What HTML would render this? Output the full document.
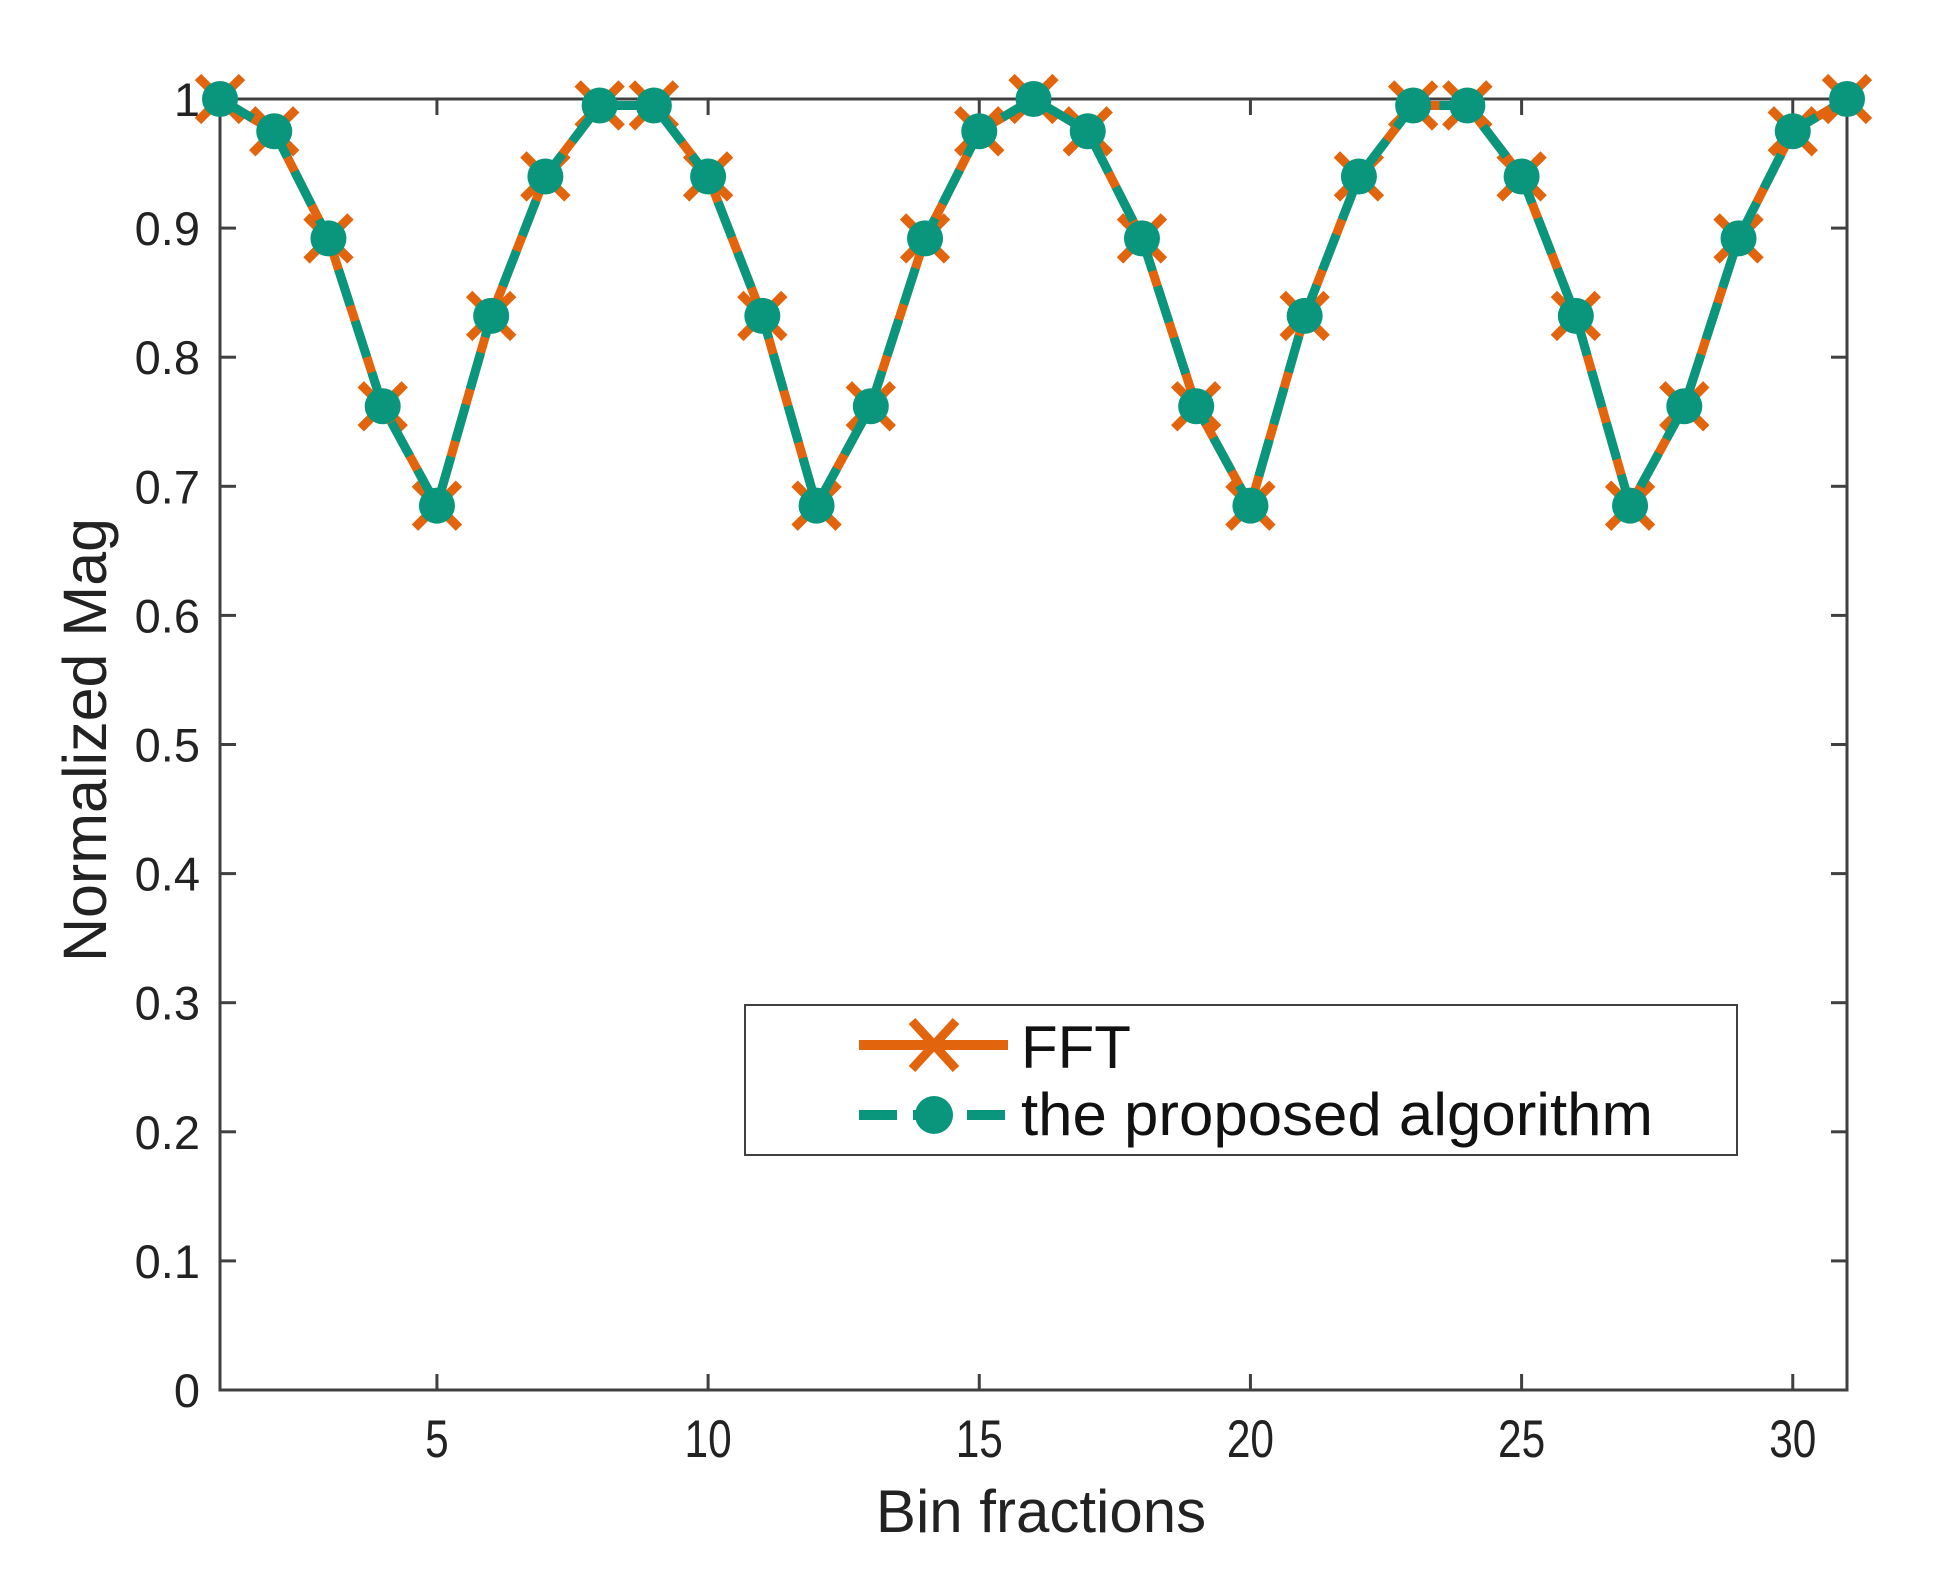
<!DOCTYPE html>
<html><head><meta charset="utf-8"><style>html,body{margin:0;padding:0;background:#fff}</style></head>
<body>
<svg id="s" width="1948" height="1576" xmlns="http://www.w3.org/2000/svg" font-family="Liberation Sans, Arial, sans-serif">
<rect width="1948" height="1576" fill="#fff"/>
<g id="g"></g>
</svg>
<script>
const X0=220,X1=1847,Y0=1390,Y1=99;
const sx=v=>X0+(v-1)*(X1-X0)/30, sy=v=>Y0-v*(Y0-Y1);
const vals=[1,.975,.892,.762,.685,.832,.94,.995,.995,.94,.832,.685,.762,.892,.975,1,.975,.892,.762,.685,.832,.94,.995,.995,.94,.832,.685,.762,.892,.975,1];
let h='';
const ax='#404040';
for(let i=0;i<=10;i++){const y=sy(i/10);
 h+=`<line x1="${X0}" y1="${y}" x2="${X0+16}" y2="${y}" stroke="${ax}" stroke-width="3"/><line x1="${X1}" y1="${y}" x2="${X1-16}" y2="${y}" stroke="${ax}" stroke-width="3"/>`;
 const t=i==0?'0':i==10?'1':(i/10).toFixed(1);
 h+=`<text x="200" y="${y+17}" font-size="47" text-anchor="end" fill="#222">${t}</text>`;}
for(let v=5;v<=30;v+=5){const x=sx(v);
 h+=`<line x1="${x}" y1="${Y0}" x2="${x}" y2="${Y0-16}" stroke="${ax}" stroke-width="3"/><line x1="${x}" y1="${Y1}" x2="${x}" y2="${Y1+16}" stroke="${ax}" stroke-width="3"/>`;
 h+=`<text transform="translate(${x},1457) scale(0.8,1)" font-size="53" text-anchor="middle" fill="#222">${v}</text>`;}
h+=`<rect x="${X0}" y="${Y1}" width="${X1-X0}" height="${Y0-Y1}" fill="none" stroke="${ax}" stroke-width="3"/>`;
const pts=vals.map((v,i)=>sx(i+1)+','+sy(v)).join(' ');
const O='#E2650E',T='#0A967D';
h+=`<polyline points="${pts}" fill="none" stroke="${O}" stroke-width="9"/>`;
vals.forEach((v,i)=>{const x=sx(i+1),y=sy(v),d=22;
 h+=`<path d="M${x-d},${y-d}L${x+d},${y+d}M${x-d},${y+d}L${x+d},${y-d}" stroke="${O}" stroke-width="9"/>`;});
h+=`<polyline points="${pts}" fill="none" stroke="${T}" stroke-width="9" stroke-dasharray="38 16"/>`;
vals.forEach((v,i)=>{h+=`<circle cx="${sx(i+1)}" cy="${sy(v)}" r="18" fill="${T}"/>`;});
h+=`<rect x="745" y="1005" width="992" height="150" fill="#fff" stroke="${ax}" stroke-width="2"/>`;
h+=`<line x1="859" y1="1045" x2="1008" y2="1045" stroke="${O}" stroke-width="10"/><path d="M912,1021L956,1069M912,1069L956,1021" stroke="${O}" stroke-width="9"/>`;
h+=`<text x="1021" y="1068" font-size="60" fill="#111">FFT</text>`;
h+=`<line x1="859" y1="1115" x2="1008" y2="1115" stroke="${T}" stroke-width="10" stroke-dasharray="38 16"/><circle cx="934" cy="1115" r="19" fill="${T}"/>`;
h+=`<text x="1021" y="1135" font-size="60" fill="#111" textLength="632" lengthAdjust="spacingAndGlyphs">the proposed algorithm</text>`;
h+=`<text x="1041" y="1532" font-size="60" text-anchor="middle" fill="#222">Bin fractions</text>`;
h+=`<text transform="translate(106,740) rotate(-90)" font-size="61" text-anchor="middle" fill="#222">Normalized Mag</text>`;
document.getElementById('g').innerHTML=h;
</script>
</body></html>
